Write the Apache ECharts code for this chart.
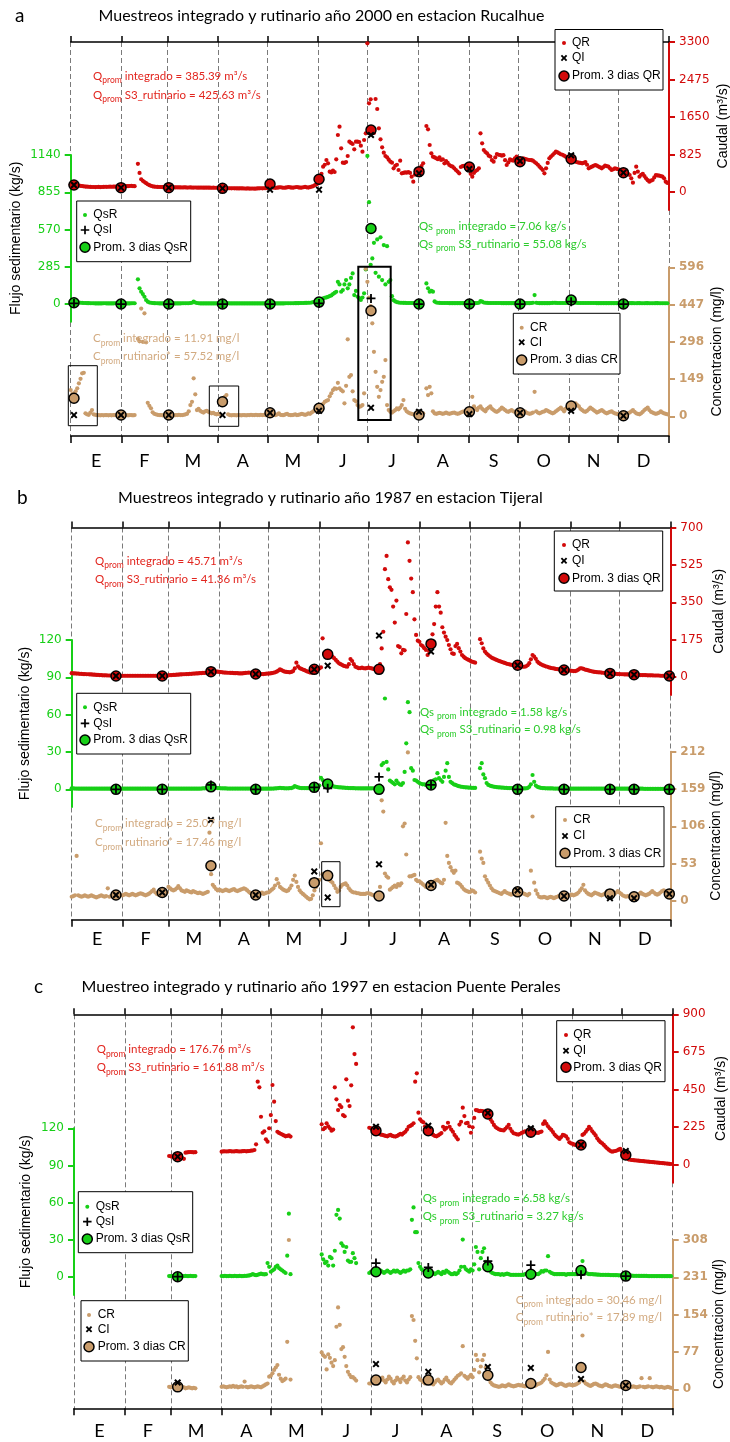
<!DOCTYPE html>
<html>
<head>
<meta charset="utf-8">
<script src="https://cdn.jsdelivr.net/npm/echarts@6.0.0/dist/echarts.min.js"></script>
<style>
  html, body { margin: 0; padding: 0; background: #fff; }
  #chart { width: 730px; height: 1442px; }
</style>
</head>
<body>
<div id="chart"></div>
<script>
// month axis (day of year)
const monthStarts = [0, 31, 59, 90, 120, 151, 181, 212, 243, 273, 304, 334, 365];
const monthMids = [15.5, 45, 74.5, 105, 135.5, 166, 196, 227, 258, 288.5, 319, 349.5];
const monthLabels = ['E', 'F', 'M', 'A', 'M', 'J', 'J', 'A', 'S', 'O', 'N', 'D'];

// ---------- panel a: Rucalhue 2000 (daily values, one row per month) ----------
const qrA = [
  165,160,155,150,148,140,135,130,125,120,118,115,112,110,110,108,110,112,108,110,112,115,113,116,118,115,118,120,118,116,115,
  118,120,125,130,128,132,135,130,128,null,620,420,280,245,220,195,170,150,135,125,118,115,112,110,110,108,108,106,
  105,104,103,104,102,101,103,100,101,99,100,102,98,99,100,98,97,99,98,96,97,98,96,95,97,96,95,94,95,93,94,
  92,90,88,86,85,84,83,82,80,82,81,80,79,78,80,78,77,76,78,76,75,77,74,76,78,80,82,80,83,85,
  90,95,98,100,96,92,95,100,105,98,94,96,102,108,100,95,98,104,110,100,96,98,105,112,102,98,108,118,130,150,170,
  190,264,400,557,600,704,631,447,430,469,440,719,1254,1437,961,645,640,660,792,1107,1080,1056,939,1107,1110,1100,1019,887,1144,1291,
  3270,1951,2039,1415,1300,2046,1826,1401,1159,983,865,792,763,711,667,645,521,578,600,484,689,411,420,430,425,440,420,337,227,380,430,
  470,500,572,631,null,1452,1379,1034,851,777,760,741,720,760,704,720,631,680,640,594,570,557,520,484,450,411,550,570,575,580,560,
  557,400,337,420,460,484,520,1291,1071,924,880,851,800,780,700,667,760,836,820,814,800,810,700,594,650,719,700,689,740,777,
  700,667,700,741,730,720,710,704,700,690,660,631,600,557,520,484,411,520,640,741,780,814,850,887,870,851,830,820,800,777,760,
  740,726,704,690,667,655,645,640,631,640,660,600,521,540,557,575,594,580,560,540,521,550,580,570,560,520,484,500,520,510,
  500,490,470,425,430,440,400,374,300,205,420,557,450,337,380,400,350,301,260,227,250,264,320,374,365,360,350,340,300,227,200
];
const qsrA = [
  20,18,15,14,12,12,10,9,8,8,7,7,6,6,6,5,5,5,5,5,6,6,5,5,5,5,5,6,6,5,5,
  5,5,5,5,5,5,6,6,6,null,189,120,94,76,56,31,18,12,10,8,7,6,6,5,5,5,5,5,
  5,5,5,5,5,5,5,5,5,6,6,6,6,6,8,10,18,12,8,6,5,5,5,5,5,5,5,5,5,5,5,
  5,5,5,5,6,6,6,5,5,5,5,5,5,5,5,5,5,5,5,5,5,5,5,5,5,5,5,5,5,5,
  5,5,5,5,5,5,5,5,5,5,5,6,6,6,6,6,6,7,7,7,8,8,8,9,9,10,10,12,14,16,18,
  20,31,36,43,48,51,55,61,66,76,85,94,170,150,94,107,150,183,120,150,200,234,69,100,56,45,31,50,82,265,
  1133,779,300,349,468,239,494,209,510,183,451,150,443,170,183,60,30,20,15,12,10,10,9,9,8,8,8,8,8,8,8,
  7,7,null,null,null,158,120,94,101,95,20,12,10,9,8,8,8,8,8,7,7,7,7,7,7,7,7,7,7,7,7,
  7,7,7,7,7,8,10,23,18,12,10,9,8,8,8,8,8,8,8,8,7,7,7,7,7,7,7,7,7,7,
  7,7,7,7,7,7,7,7,8,10,69,10,8,7,7,7,7,7,7,7,8,9,10,9,8,8,8,8,8,8,8,
  10,31,15,12,10,9,8,8,8,8,8,8,8,8,8,8,8,7,7,7,7,7,7,7,7,7,7,7,7,7,
  7,7,7,7,7,6,6,7,7,7,6,6,7,7,6,6,6,7,7,6,6,6,6,7,7,6,6,6,6,6,6
];
const crA = [
  105,90,92,100,112,132,150,172,174,12,8,6,15,25,8,6,5,5,4,5,4,5,5,4,5,4,5,5,4,5,5,
  5,4,5,5,4,5,5,4,5,null,310,300,431,298,412,296,54,42,32,16,10,8,6,5,5,4,5,5,
  5,6,5,5,4,5,5,6,5,5,6,8,10,20,45,58,152,88,25,30,22,18,15,20,22,18,15,12,14,10,8,
  10,8,45,65,78,85,8,5,4,5,5,4,5,5,4,5,5,4,5,5,6,5,5,6,5,5,6,5,6,5,
  6,5,8,10,6,5,8,12,6,5,5,8,10,6,5,5,6,8,5,6,8,10,8,6,8,12,10,15,20,25,30,
  35,40,45,50,58,62,65,80,92,105,112,110,134,112,105,100,52,122,308,158,165,100,65,60,45,38,40,45,92,590,
  538,475,441,372,258,178,118,78,105,138,158,225,45,25,18,15,20,25,32,28,35,45,65,30,20,15,12,10,8,6,5,
  5,8,10,12,null,112,85,118,92,20,12,10,12,14,12,10,12,15,12,10,12,14,15,12,10,12,15,18,20,15,12,
  18,25,78,40,30,25,35,40,30,25,20,30,35,40,30,25,20,18,22,28,35,30,25,20,18,22,25,20,18,15,
  15,14,15,18,20,15,12,10,12,15,98,20,15,12,15,18,20,25,22,18,15,12,15,20,25,30,35,28,20,30,35,
  40,41,45,50,52,45,40,30,25,20,18,22,28,35,30,25,20,15,18,22,25,20,15,12,15,18,20,15,12,10,
  10,8,5,2,5,8,12,15,20,25,18,12,10,8,12,18,25,30,35,25,18,15,12,10,12,15,20,15,12,10,8
];
const sampleDaysA = [2, 30.7, 59.8, 92.6, 121.6, 151.5, 183.2, 212.5, 243.2, 274.1, 305.3, 337.2];
const promQrA = [154, 95, 95, 81, 176, 280, 1364, 447, 550, 667, 726, 425];
const qiA     = [154, 95, 95, 81, 51, 51, 1254, 411, 506, 682, 807, 425];
const promQsA = [10, 0, 0, 0, 0, 15, 578, 0, 0, 0, 31, 0];
const qsiA    = [5, 0, 0, 0, 0, 5, 43, 0, 0, 0, 18, 0];
const promCA  = [72, 5, 5, 58, 14, 32, 422, 5, 18, 14, 41, 2];
const ciA     = [5, 5, 5, 5, 14, 22, 34, 18, 9, 14, 22, 2];

// ---------- panel b: Tijeral 1987 ----------
const qrB = [
  18,17,17,16,16,15,15,14,14,13,13,12,12,11,11,10,10,9,9,8,8,8,7,7,7,6,6,5,5,5,5,
  6,6,6,6,6,6,6,6,6,6,6,6,6,6,6,6,6,6,6,6,6,6,6,6,5,5,5,5,
  8,9,9,10,10,11,11,12,12,13,13,14,14,15,15,16,16,17,17,18,18,19,19,20,20,21,22,23,24,25,25,
  24,23,22,21,21,20,20,19,19,18,18,18,17,17,17,18,19,20,21,20,19,18,17,16,15,14,14,14,15,16,
  16,17,18,20,22,25,30,36,32,28,25,24,23,22,24,28,40,67,50,42,38,35,32,28,25,22,20,22,25,30,34,
  40,45,181,111,108,106,104,103,95,88,80,72,64,60,56,52,50,48,60,84,75,60,48,45,41,42,44,41,40,42,
  44,42,40,38,36,35,34,60,134,212,505,567,458,420,408,330,255,358,145,140,111,127,125,295,630,544,461,397,270,197,170,
  165,150,145,135,127,103,120,150,200,248,330,397,330,301,233,208,189,173,150,130,111,108,145,155,135,119,103,95,88,84,80,
  76,72,70,67,null,null,177,158,134,119,110,103,97,91,87,84,80,77,74,71,69,66,63,61,59,57,56,55,55,54,
  52,50,48,48,50,55,65,83,103,95,85,72,65,60,56,53,50,48,45,43,41,40,38,37,36,35,34,33,32,31,30,
  30,29,28,28,30,35,40,41,38,35,33,31,29,27,25,24,23,22,22,21,20,19,18,18,17,16,16,15,15,14,
  14,13,13,12,12,12,11,11,11,10,10,10,10,9,9,9,9,8,8,8,8,7,7,7,7,6,6,6,6,5,5
];
const qsrB = [
  0.8,0.7,0.6,0.6,0.5,0.5,0.5,0.5,0.5,0.5,0.5,0.5,0.5,0.5,0.5,0.5,0.5,0.5,0.5,0.5,0.5,0.5,0.5,0.5,0.5,0.5,0.5,0.5,0.5,0.5,0.5,
  0.5,0.5,0.5,0.5,0.5,0.5,0.5,0.5,0.5,0.5,0.5,0.5,0.5,0.5,0.5,0.5,0.5,0.5,0.5,0.5,0.5,0.5,0.5,0.5,0.5,0.5,0.5,0.5,
  0.5,0.5,0.5,0.5,0.5,0.5,0.5,0.5,0.5,0.5,0.5,0.5,0.5,0.5,0.5,0.5,0.5,0.5,0.5,0.5,0.6,0.7,0.8,0.8,0.9,1,1,1.2,1.5,1.2,1,
  0.9,0.8,0.8,0.7,0.7,0.6,0.6,0.6,0.6,0.6,0.6,0.6,0.6,0.6,0.6,0.6,0.6,0.6,0.6,0.6,0.5,0.5,0.5,0.5,0.5,0.5,0.5,0.5,0.5,0.5,
  0.5,0.5,0.6,0.6,0.7,0.8,1,1.2,1,0.9,0.8,0.8,0.8,0.9,1,1.5,2.6,2,1.5,1.2,1,1,0.9,0.9,0.9,0.8,1,1.2,1.5,1.6,1.8,
  3,9.3,7.5,6,5.5,5,4.5,3.5,2.6,2.2,2,1.8,1.6,1.5,1.4,1.3,1.2,1.1,1,1,0.9,0.9,0.8,0.8,0.8,0.7,0.7,0.7,0.7,0.7,
  0.7,0.7,0.8,0.8,0.8,0.8,0.9,3,19.5,21,73,22,16,7,6,5,4,7,5,4,3.5,5,14,37,70,62,17,15,7.5,7,6,
  5,4.5,4,4,3.5,3.5,3.5,3.5,6,7.5,8,13,9,7.5,6,10,15,21,10,6,5,4,3.5,3,2.5,2.2,2,1.8,1.6,1.5,1.4,
  1.3,1.2,1.2,1.1,null,null,17,21,12,9,5,3.5,3,2.5,2.2,2,1.8,1.6,1.5,1.4,1.3,1.2,1.1,1,1,0.9,0.9,0.8,0.8,0.7,
  0.7,0.7,0.7,0.7,0.8,1,2,4,11.5,6,3,2,1.5,1.2,1,0.9,0.8,0.8,0.7,0.7,0.7,0.6,0.6,0.6,0.6,0.6,0.5,0.5,0.5,0.5,0.5,
  0.5,0.5,0.5,0.5,0.5,0.5,0.5,0.5,0.5,0.5,0.5,0.5,0.5,0.5,0.5,0.5,0.5,0.5,0.5,0.5,0.5,0.5,0.5,0.5,0.5,0.5,0.5,0.5,0.5,0.5,
  0.5,0.5,0.5,0.5,0.5,0.5,0.5,0.5,0.5,0.5,0.5,0.5,0.5,0.5,0.5,0.4,0.4,0.4,0.4,0.4,0.4,0.4,0.4,0.4,0.4,0.4,0.4,0.4,0.4,0.4,0.4
];
const crB = [
  6,7,8,64,8,7,6,7,8,7,6,7,8,7,6,5,6,7,8,7,6,7,18,6,7,8,10,12,10,8,8,
  8,9,10,9,8,9,10,9,8,9,10,11,10,9,8,9,10,12,14,16,12,10,9,10,11,12,10,12,
  20,18,16,15,16,18,21,18,15,14,13,15,14,13,12,14,13,12,11,12,11,10,11,12,13,97,38,23,20,17,15,
  16,15,14,15,16,15,14,15,16,17,15,14,15,16,17,18,17,15,13,11,10,9,8,9,10,11,12,10,11,12,
  12,14,16,18,22,31,25,20,18,16,15,14,15,18,22,30,36,27,20,15,12,10,8,6,4,2.4,3,8,15,20,25,
  30,82,38,35,33,32,30,28,26,22,18,13,15,20,23,24,25,22,18,15,13,12,12,11,11,10,10,10,10,11,
  11,10,9,8,8,7,7,20,143,127,39,35,33,16,18,20,22,20,24,22,25,106,110,66,211,35,35,36,37,30,28,
  28,26,24,22,20,21,22,22,26,28,29,30,28,26,25,30,111,64,54,48,43,40,43,26,25,23,20,17,15,14,13,
  13,15,14,12,null,null,70,60,54,35,30,26,22,18,15,14,13,12,11,10,12,14,12,11,10,9,10,12,13,13,
  13,12,11,10,9,8,10,43,120,26,15,10,6,5,5,6,5,4,5,6,5,4,5,6,7,6,7,7,8,7,8,
  8,9,8,9,10,12,15,18,23,15,12,10,9,8,10,12,11,10,9,8,9,10,12,14,10,8,9,10,12,14,
  12,10,8,7,6,7,6,5,6,7,8,9,10,12,10,9,8,9,10,12,14,12,10,9,10,12,14,15,13,11,10
];
const sampleDaysB = [27, 55.2, 84.9, 112.2, 147.9, 156.1, 187.4, 219.1, 271.9, 300.2, 328.2, 342.9, 364.4];
const promQrB = [5, 5, 25, 14, 36, 106, 36, 155, 55, 33, 17, 11, 5];
const qiB     = [5, 5, 25, 14, 36, 53, 194, 119, 55, 33, 17, 11, 5];
const promQsB = [0, 0, 2, 0, 1.6, 4.3, 0, 3.5, 0, 0, 0, 0, 0];
const qsiB    = [0, 0, 3.5, 0, 1.6, 0.8, 10, 3.5, 0, 0, 0, 0, 0];
const promCB  = [8.5, 12, 50, 8.5, 26, 36, 7, 22, 13, 7, 10, 6, 10];
const ciB     = [8.5, 12, 115, 8.5, 42, 5, 52, 23, 15, 7, 4, 4, 10];

// ---------- panel c: Puente Perales 1997 ----------
const qrC = [
  null,null,null,null,null,null,null,null,null,null,null,null,null,null,null,null,null,null,null,null,null,null,null,null,null,null,null,null,null,null,null,
  null,null,null,null,null,null,null,null,null,null,null,null,null,null,null,null,null,null,null,null,null,null,null,null,null,null,null,52,
  50,48,47,46,48,45,42,40,35,72,74,75,76,75,74,75,null,null,null,null,null,null,null,null,null,null,null,null,null,null,null,
  78,80,80,79,80,81,80,79,80,81,80,79,80,81,82,80,81,82,84,85,88,122,497,463,287,191,200,152,138,218,
  297,477,377,261,197,190,185,180,175,170,172,175,168,null,null,null,null,null,null,null,null,null,null,null,null,null,null,null,null,null,null,
  242,212,220,248,230,218,203,210,463,391,327,357,345,297,290,511,383,351,475,822,662,603,null,null,null,null,null,null,null,221,
  218,210,205,200,190,185,180,178,175,172,170,175,178,172,170,168,172,178,185,180,189,197,210,227,232,238,248,497,547,311,272,
  260,254,230,215,205,195,185,178,172,170,175,182,189,227,210,220,251,227,210,197,178,165,152,240,257,341,291,248,250,230,191,
  224,280,327,325,320,322,320,317,312,305,290,270,255,238,225,218,212,208,206,205,215,225,238,215,200,188,185,182,180,185,
  190,195,200,198,195,192,190,188,190,192,190,195,198,244,260,245,230,218,208,195,180,170,162,154,165,178,175,170,155,134,128,
  125,120,118,115,112,118,178,185,197,210,227,215,200,188,175,158,145,135,128,118,108,98,90,82,78,80,82,85,90,95,
  80,65,55,40,32,30,28,27,26,25,24,23,22,21,20,19,18,17,16,15,14,13,12,11,10,9,8,7,6,5,4
];
const qsrC = [
  null,null,null,null,null,null,null,null,null,null,null,null,null,null,null,null,null,null,null,null,null,null,null,null,null,null,null,null,null,null,null,
  null,null,null,null,null,null,null,null,null,null,null,null,null,null,null,null,null,null,null,null,null,null,null,null,null,null,null,0.5,
  0.5,0.5,0.6,0.5,0.5,0.5,0.6,0.5,0.5,0.6,0.5,0.5,0.6,0.5,0.5,0.5,null,null,null,null,null,null,null,null,null,null,null,null,null,null,null,
  0.5,0.5,0.6,0.5,0.5,0.6,0.5,0.5,0.6,0.5,0.5,0.6,0.5,0.5,0.6,0.7,0.8,1,1.5,2,1.5,1.2,1.5,2,2.5,2,1.8,2,11,8,
  4,5,6,8,9,7,6,5,4,3,17,51,2,null,null,null,null,null,null,null,null,null,null,null,null,null,null,null,null,null,null,
  18,14,11,12,9,16,15,9,21,50,54,47,27,25,20,24,13,12,12,19,15,11,null,null,null,null,null,null,null,3,
  4,4,4,4,3,4,5,4,3,4,5,4,3,4,5,4,5,4,3,4,5,4,5,5,6,46,56,36,36,11,8,
  6,5,4,3,3,2,2,3,2,3,4,3,2,4,3,5,4,3,2,2,3,2,3,5,8,30,8,6,5,4,6,
  5,10,24,20,6,15,20,23,12,9,6,4,3,2.5,2,2,2,1.5,2,1.5,2,2.5,2,1.5,1.5,1.5,1.5,1.5,1.5,1.5,
  1.5,1.5,2,2,2,2,2,2,2.5,2,2,3,4.6,4,5,5,16.6,4,3,2.5,2,2,2,2,2,2,2,1.5,2,2,2,
  2,2,2,2,3,5,12.6,4,3,2.5,2,2,2,1.8,1.8,1.6,1.6,1.5,1.5,1.5,1.5,1.4,1.4,1.3,1.3,1.2,1.2,1.2,1.1,1.1,
  1,1,0.9,0.9,0.8,0.8,0.8,0.7,0.7,0.7,0.7,0.6,0.6,0.6,0.6,0.6,0.5,0.5,0.5,0.5,0.5,0.5,0.5,0.5,0.4,0.4,0.4,0.4,0.4,0.4,0.4
];
const crC = [
  null,null,null,null,null,null,null,null,null,null,null,null,null,null,null,null,null,null,null,null,null,null,null,null,null,null,null,null,null,null,null,
  null,null,null,null,null,null,null,null,null,null,null,null,null,null,null,null,null,null,null,null,null,null,null,null,null,null,null,5,
  4,6,5,3,5,4,3,5,4,2,3,4,3,2,3,2,null,null,null,null,null,null,null,null,null,null,null,null,null,null,null,
  5,6,5,4,5,6,5,7,5,6,4,5,6,5,16,5,4,5,6,5,4,5,6,5,4,6,8,10,12,26,
  28,33,40,45,50,30,22,17,19,22,98,308,20,null,null,null,null,null,null,null,null,null,null,null,null,null,null,null,null,null,null,
  76,70,67,41,72,65,55,48,60,129,169,133,83,87,67,48,36,30,25,25,22,18,null,null,null,null,null,null,null,12,
  12,14,18,15,12,16,20,24,18,14,20,26,22,16,12,18,24,20,15,22,26,18,14,20,25,151,143,100,64,25,20,
  18,15,12,14,18,16,12,10,14,18,20,16,12,15,20,24,18,14,12,16,20,24,28,30,33,89,28,25,22,26,30,
  25,40,71,60,35,47,60,71,45,30,20,14,10,8,7,6,5,6,8,7,6,8,10,8,7,6,7,8,9,8,
  8,7,6,8,10,12,10,8,7,9,11,12,14,18,22,29,77,20,14,12,10,8,9,11,12,10,8,7,9,10,9,
  8,9,10,12,14,20,111,16,12,10,8,7,9,11,12,10,8,7,6,8,10,9,7,6,5,7,8,7,6,5,
  5,4,5,6,5,4,5,6,5,4,5,6,23,5,4,5,6,23,5,4,5,6,5,4,5,4,3,4,5,4,3
];
const sampleDaysC = [63.2, 184.1, 216, 252.3, 278.5, 309.1, 336.4];
const promQrC = [48, 203, 203, 303, 194, 118, 58];
const qiC     = [48, 227, 233, 310, 218, 118, 82];
const promQsC = [0, 4, 3, 8, 2, 5, 0.5];
const qsiC    = [0, 11, 7.5, 12.6, 9.4, 1.5, 0.5];
const promCC  = [5, 19, 19, 29, 12, 45, 8];
const ciC     = [14, 52, 36, 46, 44, 21, 8];

// axis tick labels
const qTicksA = [0, 825, 1650, 2475, 3300], qsTicksA = [0, 285, 570, 855, 1140], cTicksA = [0, 149, 298, 447, 596];
const qTicksB = [0, 175, 350, 525, 700],    qsTicksB = [0, 30, 60, 90, 120],      cTicksB = [0, 53, 106, 159, 212];
const qTicksC = [0, 225, 450, 675, 900],    qsTicksC = [0, 30, 60, 90, 120],      cTicksC = [0, 77, 154, 231, 308];

const RED = '#d20a0a', GREEN = '#17cf17', TAN = '#c99c6b';
const TXT_RED = '#e2261f', TXT_GREEN = '#2ccc2c', TXT_TAN = '#d2aa80';
// x and + markers, drawn in a 10x10 box
const X_PTS = [[2,0],[5,3],[8,0],[10,2],[7,5],[10,8],[8,10],[5,7],[2,10],[0,8],[3,5],[0,2]];
const PLUS_PTS = [[4,0],[6,0],[6,4],[10,4],[10,6],[6,6],[6,10],[4,10],[4,6],[0,6],[0,4],[4,4]];
const toPath = pts => 'path://M' + pts.map(p => p.join(',')).join('L') + 'Z';

// layout of the three panels (pixels)
const panels = [
  { letter: 'a', title: 'Muestreos integrado y rutinario año 2000 en estacion Rucalhue',
    letterPos: [15, 16], titlePos: [98.5, 16],
    x0: 70.7, x1: 669, top: 42, bot: 436, labelMargin: 16, nameGaps: [47, 48, 41],
    q:  { top: 42,    bot: 210,   min: -396,  max: 3300, ticks: qTicksA },
    qs: { top: 155,   bot: 321.7, min: -135,  max: 1140, ticks: qsTicksA },
    c:  { top: 267.3, bot: 436,   min: -78.8, max: 596,  ticks: cTicksA },
    qr: qrA, qsr: qsrA, cr: crA, days: sampleDaysA,
    promQr: promQrA, qi: qiA, promQs: promQsA, qsi: qsiA, promC: promCA, ci: ciA,
    qText: ['integrado = 385.39 m³/s', 'S3_rutinario = 425.63 m³/s'], qTextPos: [93, 76, 95],
    qsText: ['integrado = 7.06 kg/s', 'S3_rutinario = 55.08 kg/s'], qsTextPos: [419, 226.7, 244],
    cText: ['integrado = 11.91 mg/l', 'rutinario* = 57.52 mg/l'], cTextPos: [93, 338.3, 356.7],
    qLeg:  { box: [555, 29.5, 108, 60.5], sx: 564, tx: 572, ys: [43, 58, 76] },
    qsLeg: { box: [76.7, 201, 114, 60.7], sx: 85, tx: 93.3, ys: [215, 230, 247.3] },
    cLeg:  { box: [513.3, 313.3, 106.7, 60.7], sx: 521.7, tx: 530, ys: [327.7, 342.3, 360] },
    boxes: [[68.3, 365.7, 29, 60, 1], [209.3, 386, 29.4, 40.3, 1], [358.3, 266.7, 32.4, 153.3, 2]] },
  { letter: 'b', title: 'Muestreos integrado y rutinario año 1987 en estacion Tijeral',
    letterPos: [17, 498], titlePos: [118, 498],
    x0: 71.7, x1: 670.3, top: 527.5, bot: 919.7, labelMargin: 10, nameGaps: [42, 40, 39],
    q:  { top: 527.5, bot: 695,   min: -84.2, max: 700, ticks: qTicksB },
    qs: { top: 640,   bot: 807,   min: -14.2, max: 120, ticks: qsTicksB },
    c:  { top: 751.7, bot: 919.7, min: -26.6, max: 212, ticks: cTicksB },
    qr: qrB, qsr: qsrB, cr: crB, days: sampleDaysB,
    promQr: promQrB, qi: qiB, promQs: promQsB, qsi: qsiB, promC: promCB, ci: ciB,
    qText: ['integrado = 45.71 m³/s', 'S3_rutinario = 41.36 m³/s'], qTextPos: [95, 561, 579.3],
    qsText: ['integrado = 1.58 kg/s', 'S3_rutinario = 0.98 kg/s'], qsTextPos: [420, 712, 729.3],
    cText: ['integrado = 25.07 mg/l', 'rutinario* = 17.46 mg/l'], cTextPos: [95, 823.3, 842.3],
    qLeg:  { box: [554.3, 531, 108.4, 60], sx: 564, tx: 572, ys: [545, 560.7, 578.3] },
    qsLeg: { box: [76.7, 693.3, 114, 60.7], sx: 85, tx: 93.3, ys: [707.3, 723.3, 740] },
    cLeg:  { box: [555.7, 806.7, 108.3, 60], sx: 565, tx: 573.3, ys: [820, 836, 853.3] },
    boxes: [[321.7, 861.7, 18.3, 45, 1]] },
  { letter: 'c', title: 'Muestreo integrado y rutinario año 1997 en estacion Puente Perales',
    letterPos: [34, 987], titlePos: [81.5, 987],
    x0: 74, x1: 672.7, top: 1014.3, bot: 1408.3, labelMargin: 14, nameGaps: [41, 41, 39],
    q:  { top: 1014.3, bot: 1182.7, min: -107.8, max: 900, ticks: qTicksC },
    qs: { top: 1128.3, bot: 1295,   min: -14.8,  max: 120, ticks: qsTicksC },
    c:  { top: 1240,   bot: 1408.3, min: -39.2,  max: 308, ticks: cTicksC },
    qr: qrC, qsr: qsrC, cr: crC, days: sampleDaysC,
    promQr: promQrC, qi: qiC, promQs: promQsC, qsi: qsiC, promC: promCC, ci: ciC,
    qText: ['integrado = 176.76 m³/s', 'S3_rutinario = 161.88 m³/s'], qTextPos: [96.7, 1049.3, 1067.3],
    qsText: ['integrado = 6.58 kg/s', 'S3_rutinario = 3.27 kg/s'], qsTextPos: [422.7, 1198.3, 1216.7],
    cText: ['integrado = 30.46 mg/l', 'rutinario* = 17.89 mg/l'], cTextPos: [515.7, 1300, 1317.3],
    qLeg:  { box: [556.7, 1020.7, 108.3, 61], sx: 566, tx: 573.3, ys: [1035, 1050.7, 1067.3] },
    qsLeg: { box: [78.3, 1191.7, 114.4, 61], sx: 87.3, tx: 95.7, ys: [1206.7, 1221.7, 1239] },
    cLeg:  { box: [81, 1300.7, 107.3, 60.3], sx: 89, tx: 97.7, ys: [1315, 1329.3, 1346.7] },
    boxes: [] }
];

const grids = [], xAxes = [], yAxes = [], series = [], graphics = [];

function addGrid(left, right, top, bottom) {
  grids.push({ left: left, top: top, width: right - left, height: bottom - top,
    containLabel: false, outerBoundsMode: 'none' });
  return grids.length - 1;
}
function daily(arr) {
  const out = [];
  arr.forEach((v, i) => { if (v != null) out.push([i, v]); });
  return out;
}
function pairs(days, vals) { return days.map((d, i) => [d, vals[i]]); }

function valueAxis(sub, gridIndex, pos, color, name, nameGap, bold) {
  yAxes.push({
    gridIndex: gridIndex, type: 'value', position: pos, min: sub.min, max: sub.max,
    axisLine: { show: true, onZero: false, lineStyle: { color: color, width: 2 } },
    axisTick: { show: true, customValues: sub.ticks, length: 6, lineStyle: { color: color, width: 2 } },
    axisLabel: { customValues: sub.ticks, color: color, fontSize: 12, fontFamily: 'DejaVu Sans',
      fontWeight: bold ? 'bold' : 'normal', margin: 10, formatter: v => String(v) },
    splitLine: { show: false },
    name: name, nameLocation: 'middle', nameGap: nameGap, nameMoveOverlap: false,
    nameTextStyle: { color: '#000', fontSize: 14, fontFamily: 'Liberation Sans' }
  });
  return yAxes.length - 1;
}
function hiddenX(gridIndex) {
  xAxes.push({ gridIndex: gridIndex, type: 'value', min: 0, max: 365, show: false });
  return xAxes.length - 1;
}
function dots(name, xi, yi, data, color, size) {
  series.push({ name: name, type: 'scatter', xAxisIndex: xi, yAxisIndex: yi, data: data, clip: false,
    symbol: 'circle', symbolSize: size, itemStyle: { color: color, opacity: 1 }, z: 3, animation: false });
}
function promCircles(name, xi, yi, data, color) {
  series.push({ name: name, type: 'scatter', xAxisIndex: xi, yAxisIndex: yi, data: data, clip: false,
    symbol: 'circle', symbolSize: 10,
    itemStyle: { color: color, borderColor: '#000', borderWidth: 1.5, opacity: 1 }, z: 4, animation: false });
}
function marks(name, xi, yi, data, pts, size) {
  series.push({ name: name, type: 'scatter', xAxisIndex: xi, yAxisIndex: yi, data: data, clip: false,
    symbol: toPath(pts), symbolSize: size, itemStyle: { color: '#000', opacity: 1 }, z: 5, animation: false });
}

function txt(x, y, text, font, fill, z) {
  return { type: 'text', x: x, y: y, z: z || 60,
    style: { text: text, font: font, fill: fill, align: 'left', verticalAlign: 'middle',
      textAlign: 'left', textVerticalAlign: 'middle' } };
}
function annot(x, y, head, body, color) {
  const base = { fontSize: 11.5, fontFamily: 'Lato', lineHeight: 18, fill: color, color: color };
  const sub = { fontSize: 8.5, fontFamily: 'Lato', verticalAlign: 'bottom', fill: color, color: color };
  return { type: 'text', x: x, y: y, z: 40,
    style: { text: '{b|' + head + '}{s|prom}{b| ' + body + '}', rich: { b: base, s: sub },
      fill: color, align: 'left', verticalAlign: 'middle', textAlign: 'left', textVerticalAlign: 'middle' } };
}
function markerPolygon(pts, cx, cy, s) {
  return { type: 'polygon', z: 101,
    shape: { points: pts.map(p => [cx + (p[0] - 5) * s / 10, cy + (p[1] - 5) * s / 10]) },
    style: { fill: '#000' } };
}
function legendBox(leg, color, labels, secondPts) {
  const b = leg.box;
  graphics.push({ type: 'rect', z: 100, shape: { x: b[0], y: b[1], width: b[2], height: b[3] },
    style: { fill: '#fff', stroke: '#000', lineWidth: 1 } });
  graphics.push({ type: 'circle', z: 101, shape: { cx: leg.sx, cy: leg.ys[0], r: 2 }, style: { fill: color } });
  graphics.push(markerPolygon(secondPts, leg.sx, leg.ys[1], secondPts === X_PTS ? 6.5 : 8.5));
  graphics.push({ type: 'circle', z: 101, shape: { cx: leg.sx, cy: leg.ys[2], r: 5 },
    style: { fill: color, stroke: '#000', lineWidth: 1.5 } });
  labels.forEach((l, i) => graphics.push(txt(leg.tx, leg.ys[i], l, '12px "Liberation Sans"', '#000', 101)));
}

panels.forEach(p => {
  // frame: top & bottom axes with month ticks and dashed month lines
  const gF = addGrid(p.x0, p.x1, p.top, p.bot);
  xAxes.push({
    gridIndex: gF, type: 'value', min: 0, max: 365, position: 'bottom',
    axisLine: { show: true, onZero: false, lineStyle: { color: '#000', width: 1.5 } },
    axisTick: { show: true, customValues: monthStarts, length: 7, lineStyle: { color: '#000', width: 1.5 } },
    axisLabel: { customValues: monthMids, margin: p.labelMargin, color: '#000', fontSize: 18, fontFamily: 'Lato',
      formatter: v => monthLabels[monthMids.indexOf(v)] },
    splitLine: { show: true, lineStyle: { color: '#7a7a7a', width: 1, type: [5, 3] } }
  });
  xAxes.push({
    gridIndex: gF, type: 'value', min: 0, max: 365, position: 'top',
    axisLine: { show: true, onZero: false, lineStyle: { color: '#000', width: 1.5 } },
    axisTick: { show: true, customValues: monthStarts, length: 6, lineStyle: { color: '#000', width: 1.5 } },
    axisLabel: { show: false }, splitLine: { show: false }
  });
  yAxes.push({ gridIndex: gF, type: 'value', min: 0, max: 1, show: false });

  // sub-plots sharing the time axis
  const gQ = addGrid(p.x0, p.x1, p.q.top, p.q.bot);
  const gS = addGrid(p.x0, p.x1, p.qs.top, p.qs.bot);
  const gC = addGrid(p.x0, p.x1, p.c.top, p.c.bot);
  const xQ = hiddenX(gQ), xS = hiddenX(gS), xC = hiddenX(gC);
  const yQ = valueAxis(p.q, gQ, 'right', RED, 'Caudal (m³/s)', p.nameGaps[0], false);
  const yS = valueAxis(p.qs, gS, 'left', GREEN, 'Flujo sedimentario (kg/s)', p.nameGaps[1], false);
  const yC = valueAxis(p.c, gC, 'right', TAN, 'Concentracion (mg/l)', p.nameGaps[2], true);

  dots('QR', xQ, yQ, daily(p.qr), RED, 4.2);
  dots('QsR', xS, yS, daily(p.qsr), GREEN, 4.2);
  dots('CR', xC, yC, daily(p.cr), TAN, 4.2);
  promCircles('Prom. 3 dias QR', xQ, yQ, pairs(p.days, p.promQr), RED);
  promCircles('Prom. 3 dias QsR', xS, yS, pairs(p.days, p.promQs), GREEN);
  promCircles('Prom. 3 dias CR', xC, yC, pairs(p.days, p.promC), TAN);
  marks('QI', xQ, yQ, pairs(p.days, p.qi), X_PTS, 7);
  marks('QsI', xS, yS, pairs(p.days, p.qsi), PLUS_PTS, 9);
  marks('CI', xC, yC, pairs(p.days, p.ci), X_PTS, 7);

  // titles
  graphics.push(txt(p.letterPos[0], p.letterPos[1], p.letter, '19px Lato', '#000'));
  graphics.push(txt(p.titlePos[0], p.titlePos[1], p.title, '16px Lato', '#000'));

  // averages
  graphics.push(annot(p.qTextPos[0], p.qTextPos[1], 'Q', p.qText[0], TXT_RED));
  graphics.push(annot(p.qTextPos[0], p.qTextPos[2], 'Q', p.qText[1], TXT_RED));
  graphics.push(annot(p.qsTextPos[0], p.qsTextPos[1], 'Qs ', p.qsText[0], TXT_GREEN));
  graphics.push(annot(p.qsTextPos[0], p.qsTextPos[2], 'Qs ', p.qsText[1], TXT_GREEN));
  graphics.push(annot(p.cTextPos[0], p.cTextPos[1], 'C', p.cText[0], TXT_TAN));
  graphics.push(annot(p.cTextPos[0], p.cTextPos[2], 'C', p.cText[1], TXT_TAN));

  // legends
  legendBox(p.qLeg, RED, ['QR', 'QI', 'Prom. 3 dias QR'], X_PTS);
  legendBox(p.qsLeg, GREEN, ['QsR', 'QsI', 'Prom. 3 dias QsR'], PLUS_PTS);
  legendBox(p.cLeg, TAN, ['CR', 'CI', 'Prom. 3 dias CR'], X_PTS);

  // highlighted samples
  p.boxes.forEach(b => graphics.push({ type: 'rect', z: 90, shape: { x: b[0], y: b[1], width: b[2], height: b[3] },
    style: { fill: 'none', stroke: '#000', lineWidth: b[4] } }));
});

const chart = echarts.init(document.getElementById('chart'));
chart.setOption({
  animation: false,
  backgroundColor: '#fff',
  grid: grids,
  xAxis: xAxes,
  yAxis: yAxes,
  series: series,
  graphic: { elements: graphics }
});
</script>
</body>
</html>
